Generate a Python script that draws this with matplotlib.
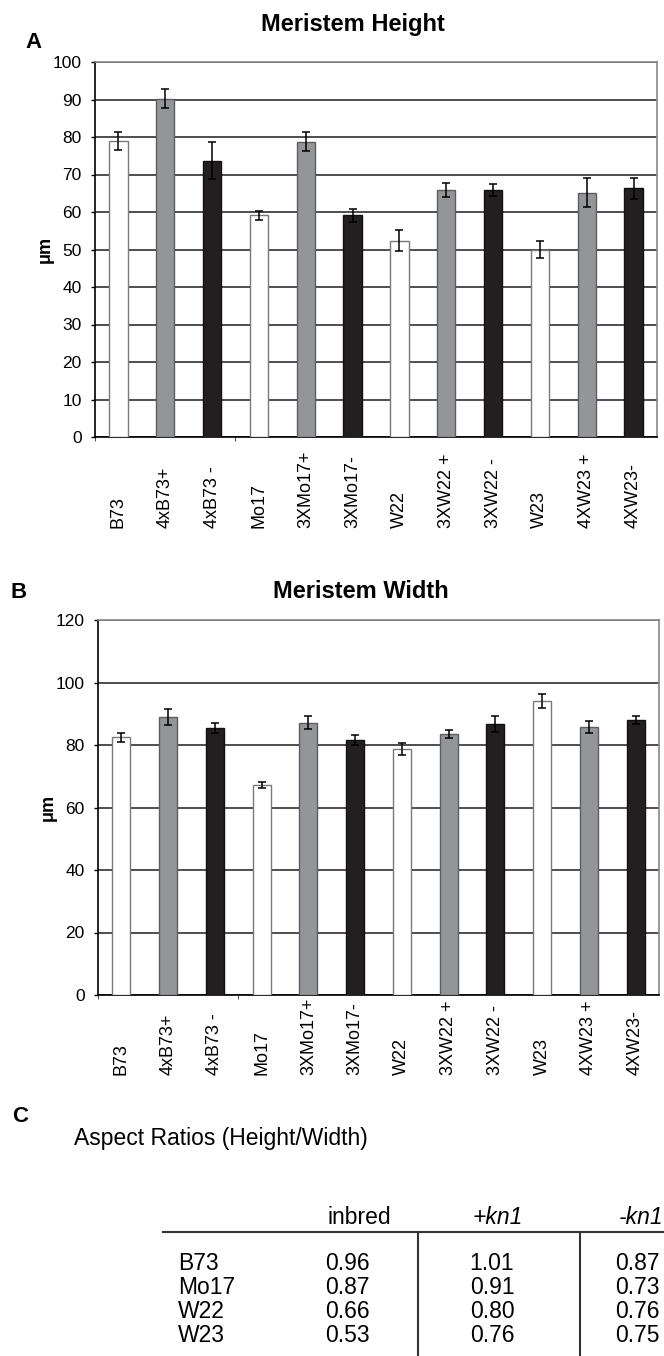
import numpy as np
import matplotlib
matplotlib.use('Agg')
import matplotlib.pyplot as plt
from matplotlib.lines import Line2D

plt.rcParams['font.family'] = ['Liberation Sans', 'DejaVu Sans']

# categories
lines = ['B73', '4xB73+', '4xB73 -', 'Mo17', '3XMo17+', '3XMo17-',
         'W22', '3XW22 +', '3XW22 -', 'W23', '4XW23 +', '4XW23-']
kind = ['inbred', 'plus', 'minus'] * 4

# meristem height (um) and error
height = [79.0, 90.2, 73.7, 59.1, 78.8, 59.1, 52.4, 65.8, 65.8, 50.0, 65.2, 66.3]
height_err = [2.4, 2.5, 4.9, 1.1, 2.5, 1.8, 2.8, 1.9, 1.6, 2.3, 3.9, 2.9]

# meristem width (um) and error
width = [82.5, 89.0, 85.4, 67.3, 87.1, 81.5, 78.7, 83.5, 86.8, 94.1, 85.8, 88.0]
width_err = [1.4, 2.5, 1.5, 1.0, 2.1, 1.6, 2.0, 1.3, 2.6, 2.3, 1.8, 1.3]

# aspect ratio table
strains = ['B73', 'Mo17', 'W22', 'W23']
ratio_inbred = ['0.96', '0.87', '0.66', '0.53']
ratio_plus = ['1.01', '0.91', '0.80', '0.76']
ratio_minus = ['0.87', '0.73', '0.76', '0.75']

face = {'inbred': 'white', 'plus': '#939598', 'minus': '#231f20'}
edge = {'inbred': '#7a7a7a', 'plus': '#5e5e5e', 'minus': '#111111'}

W, H = 664, 1356
fig = plt.figure(figsize=(W / 100, H / 100), dpi=100)

# overlay axes in pixel coordinates for titles, letters and the table
ov = fig.add_axes([0, 0, 1, 1])
ov.set_xlim(0, W)
ov.set_ylim(H, 0)
ov.axis('off')


def px_axes(left, top, right, bottom):
    return fig.add_axes([left / W, 1 - bottom / H, (right - left) / W, (bottom - top) / H])


def bar_panel(ax, vals, errs, ymax, step, label_y):
    x = np.arange(len(vals))
    cols = [face[k] for k in kind]
    ecs = [edge[k] for k in kind]
    ax.bar(x, vals, width=0.39, color=cols, edgecolor=ecs, linewidth=1.0, zorder=3)
    ax.errorbar(x, vals, yerr=errs, fmt='none', ecolor='black', elinewidth=1.1,
                capsize=2.8, capthick=1.1, zorder=4)
    ax.set_xlim(-0.5, len(vals) - 0.5)
    ax.set_ylim(0, ymax)
    ax.set_yticks(np.arange(0, ymax + 1, step))
    ax.yaxis.grid(True, color='#1e1e1e', linewidth=1.1, zorder=1)
    ax.set_axisbelow(True)
    ax.tick_params(axis='y', direction='out', length=3, width=1, pad=6.5,
                   labelsize=12.5, colors='black')
    ax.set_xticks([-0.5, 2.5])
    ax.set_xticklabels([])
    ax.tick_params(axis='x', direction='out', length=3, width=0.8, color='#555555')
    for s in ['left', 'bottom']:
        ax.spines[s].set_color('black')
        ax.spines[s].set_linewidth(1.2)
    for s in ['top', 'right']:
        ax.spines[s].set_color('#888888')
        ax.spines[s].set_linewidth(1.2)
    ax.set_ylabel('\u03bcm', fontsize=13, fontweight='bold', labelpad=-1)
    tr = ax.get_xaxis_transform()
    for i, name in enumerate(lines):
        ax.text(i, label_y, name, rotation=90, ha='center', va='bottom',
                fontsize=13, transform=tr)


ax_a = px_axes(95, 62, 657, 437)
bar_panel(ax_a, height, height_err, 100, 10, -0.243)

ax_b = px_axes(98, 620, 659, 995)
bar_panel(ax_b, width, width_err, 120, 20, -0.213)

# titles and panel letters
ov.text(353, 25, 'Meristem Height', ha='center', va='center', fontsize=17, fontweight='bold')
ov.text(361, 592, 'Meristem Width', ha='center', va='center', fontsize=17, fontweight='bold')
ov.text(33, 42, 'A', ha='center', va='center', fontsize=16, fontweight='bold')
ov.text(19, 592, 'B', ha='center', va='center', fontsize=16, fontweight='bold')
ov.text(20, 1117, 'C', ha='center', va='center', fontsize=16, fontweight='bold')

# panel C table
ov.text(74, 1138, 'Aspect Ratios (Height/Width)', ha='left', va='center', fontsize=16.5)
ov.text(359, 1217, 'inbred', ha='center', va='center', fontsize=16.5)
ov.text(498, 1217, '+kn1', ha='center', va='center', fontsize=16.5, style='italic')
ov.text(619, 1217, '-kn1', ha='left', va='center', fontsize=16.5, style='italic')
ov.add_line(Line2D([163, W], [1232, 1232], color='#333333', linewidth=1.5))
for xv in [418, 580]:
    ov.add_line(Line2D([xv, xv], [1232, H], color='#333333', linewidth=1.5))
row_y = [1263, 1287, 1312, 1336]
for i, s in enumerate(strains):
    ov.text(178, row_y[i], s, ha='left', va='center', fontsize=16.5)
    ov.text(347, row_y[i], ratio_inbred[i], ha='center', va='center', fontsize=16.5)
    ov.text(492, row_y[i], ratio_plus[i], ha='center', va='center', fontsize=16.5)
    ov.text(615, row_y[i], ratio_minus[i], ha='left', va='center', fontsize=16.5)

fig.savefig('out.png', dpi=100)
